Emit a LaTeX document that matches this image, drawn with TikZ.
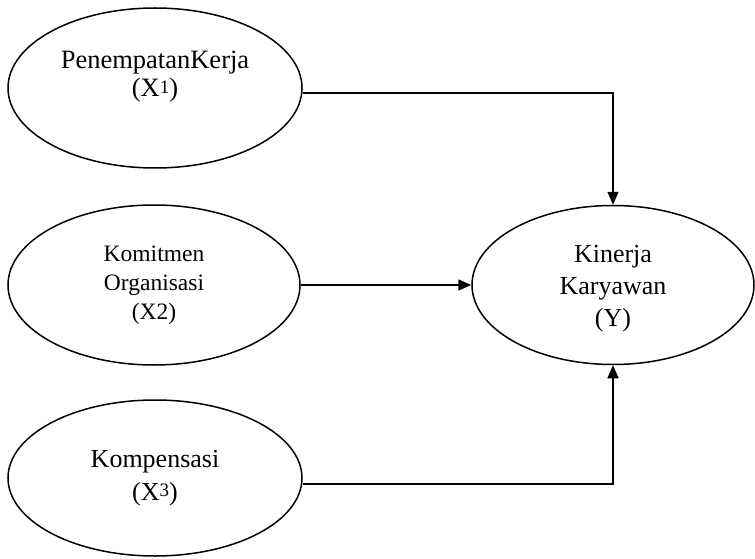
\documentclass[tikz,border=0pt]{standalone}
\usepackage{fontspec}
\setmainfont{Liberation Serif}
\usepackage{tikz}
\usetikzlibrary{shapes.geometric,arrows.meta}

\newcommand{\smallsup}[1]{\raisebox{3.5pt}{\fontsize{19}{19}\selectfont #1}}

\tikzset{
    var/.style={ellipse, draw, line width=1.5pt, inner sep=0pt, align=center},
    path_arrow/.style={line width=1.6pt, -{Triangle[length=13pt, width=11pt]}}
}

\begin{document}
\begin{tikzpicture}[x=1pt, y=-1pt]
    \useasboundingbox (0,0) rectangle (755,559);

    \node [var, minimum width=294pt, minimum height=160pt, font=\fontsize{26.5}{28}\selectfont] (penempatan) at (155, 88)
        {PenempatanKerja\\(X\smallsup{1})\\\mbox{}};
    \node [var, minimum width=292pt, minimum height=160pt, font=\fontsize{23.5}{29}\selectfont] (komitmen) at (154, 285)
        {Komitmen\\Organisasi\\(X2)};
    \node [var, minimum width=294pt, minimum height=156pt, font=\fontsize{26}{33}\selectfont] (kompensasi) at (155, 478)
        {Kompensasi\\(X\smallsup{3})};
    \node [var, minimum width=282pt, minimum height=159pt, font=\fontsize{26}{32}\selectfont] (kinerja) at (613, 285)
        {\\[-8pt]Kinerja\\Karyawan\\(Y)};

    \draw [path_arrow] ([yshift=-5pt]penempatan.east) -| (kinerja.north);
    \draw [path_arrow] (komitmen.east) -- (kinerja.west);
    \draw [path_arrow] ([yshift=-6pt]kompensasi.east) -| (kinerja.south);

\end{tikzpicture}
\end{document}
